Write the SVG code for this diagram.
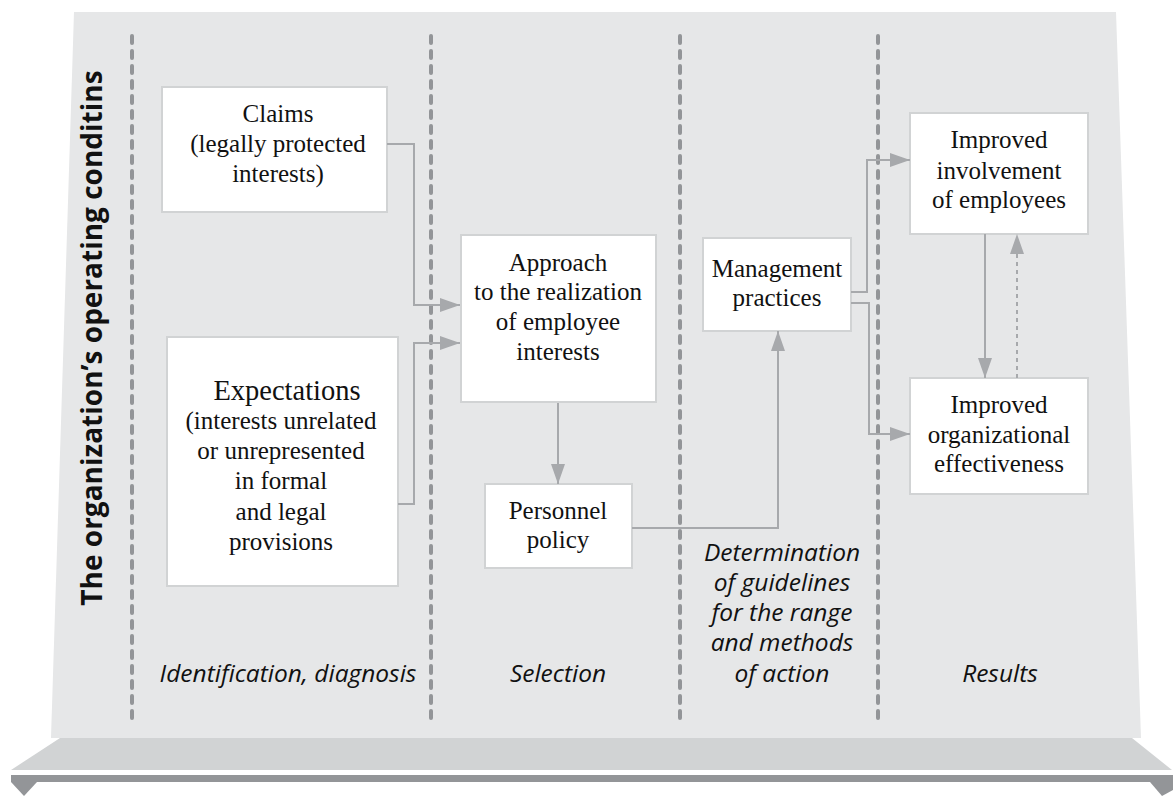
<svg xmlns="http://www.w3.org/2000/svg" width="1173" height="796" viewBox="0 0 1173 796">
<defs>
<marker id="ah" viewBox="0 0 20 14" refX="20" refY="7" markerWidth="20" markerHeight="14" markerUnits="userSpaceOnUse" orient="auto">
<path d="M0,0 L20,7 L0,14 Z" fill="#a7a9ac"/>
</marker>
</defs>
<style>
.box{fill:#ffffff;stroke:#d1d3d4;stroke-width:2}
.t{font-family:"Liberation Serif","Times New Roman","DejaVu Serif",serif;font-size:25px;fill:#111;text-anchor:middle}
.big{font-size:28.5px}
.lab{font-family:"Open Sans",sans-serif;font-style:italic;font-size:24.5px;fill:#111;text-anchor:middle}
.dash{stroke:#939598;stroke-width:4;stroke-linecap:round;stroke-dasharray:7 8;fill:none}
.con{stroke:#a7a9ac;stroke-width:2;fill:none}
</style>
<rect x="0" y="0" width="1173" height="796" fill="#ffffff"/>
<g id="panel">
<polygon points="74,12 1116,12 1141,738 51,738" fill="#e6e7e8"/>
<polygon points="60,738 1132,738 1172,770 11,770" fill="#d1d3d4"/>
<rect x="11" y="775" width="1162" height="7" fill="#939598"/>
<polygon points="11,782 37,782 24,796" fill="#939598"/>
<polygon points="1150,782 1173,782 1173,790 1162,796" fill="#939598"/>
</g>
<g id="separators">
<line class="dash" x1="132" y1="36" x2="132" y2="718"/>
<line class="dash" x1="431" y1="36" x2="431" y2="718"/>
<line class="dash" x1="680" y1="36" x2="680" y2="718"/>
<line class="dash" x1="878" y1="36" x2="878" y2="718"/>
</g>
<g id="title">
<text transform="translate(102,338) rotate(-90)" font-family="'Open Sans',sans-serif" font-weight="bold" font-size="28" fill="#111" text-anchor="middle">The organization’s operating conditins</text>
</g>
<g id="claims">
<rect class="box" x="162" y="87" width="225" height="125"/>
<text class="t" x="278" y="122">Claims</text>
<text class="t" x="278" y="152">(legally protected</text>
<text class="t" x="278" y="182">interests)</text>
</g>
<g id="expectations">
<rect class="box" x="167" y="337" width="231" height="249"/>
<text class="t big" x="287" y="400">Expectations</text>
<text class="t" x="281" y="429">(interests unrelated</text>
<text class="t" x="281" y="459">or unrepresented</text>
<text class="t" x="281" y="489">in formal</text>
<text class="t" x="281" y="520">and legal</text>
<text class="t" x="281" y="550">provisions</text>
</g>
<g id="approach">
<rect class="box" x="461" y="235" width="195" height="167"/>
<text class="t" x="558" y="271">Approach</text>
<text class="t" x="558" y="300">to the realization</text>
<text class="t" x="558" y="330">of employee</text>
<text class="t" x="558" y="360">interests</text>
</g>
<g id="personnel">
<rect class="box" x="485" y="484" width="147" height="84"/>
<text class="t" x="558" y="519">Personnel</text>
<text class="t" x="558" y="548">policy</text>
</g>
<g id="management">
<rect class="box" x="703" y="238" width="148" height="93"/>
<text class="t" x="777" y="277">Management</text>
<text class="t" x="777" y="306">practices</text>
</g>
<g id="involvement">
<rect class="box" x="910" y="113" width="178" height="121"/>
<text class="t" x="999" y="148">Improved</text>
<text class="t" x="999" y="179">involvement</text>
<text class="t" x="999" y="208">of employees</text>
</g>
<g id="effectiveness">
<rect class="box" x="910" y="378" width="178" height="116"/>
<text class="t" x="999" y="413">Improved</text>
<text class="t" x="999" y="443">organizational</text>
<text class="t" x="999" y="472">effectiveness</text>
</g>
<g id="labels">
<text class="lab" x="288" y="682">Identification, diagnosis</text>
<text class="lab" x="558" y="682">Selection</text>
<text class="lab" x="782" y="561">Determination</text>
<text class="lab" x="782" y="591">of guidelines</text>
<text class="lab" x="782" y="621">for the range</text>
<text class="lab" x="782" y="651">and methods</text>
<text class="lab" x="782" y="682">of action</text>
<text class="lab" x="1000" y="682">Results</text>
</g>
<g id="connectors">
<polyline class="con" points="387,144 414,144 414,305 460,305" marker-end="url(#ah)"/>
<polyline class="con" points="398,504 414,504 414,343 460,343" marker-end="url(#ah)"/>
<line class="con" x1="558" y1="403" x2="558" y2="484" marker-end="url(#ah)"/>
<polyline class="con" points="632,528 778,528 778,331" marker-end="url(#ah)"/>
<polyline class="con" points="851,292 867,292 867,160 910,160" marker-end="url(#ah)"/>
<polyline class="con" points="851,303 869,303 869,434 910,434" marker-end="url(#ah)"/>
<line class="con" x1="985" y1="234" x2="985" y2="378" marker-end="url(#ah)"/>
<line class="con" x1="1017" y1="378" x2="1017" y2="234" stroke-dasharray="4 4" marker-end="url(#ah)"/>
</g>
</svg>
